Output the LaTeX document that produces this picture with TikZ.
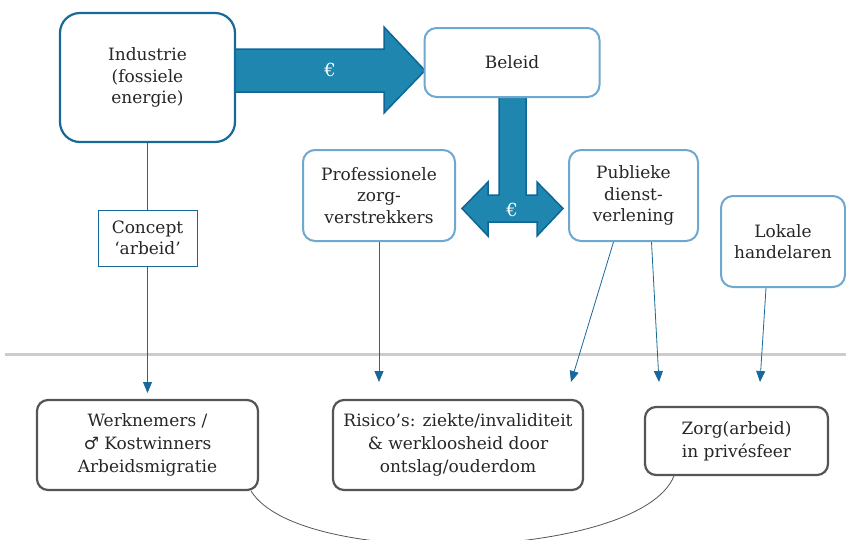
\documentclass[tikz,border=0pt]{standalone}
\usepackage{fontspec}
\setmainfont{DejaVu Serif}
\newfontfamily\symfont{DejaVu Sans}
\usepackage{tikz}
\usetikzlibrary{arrows.meta, backgrounds}
\definecolor{darkblue}{HTML}{17699A}
\definecolor{lightblue}{HTML}{6FA8CF}
\definecolor{arrowfill}{HTML}{1E86AF}
\definecolor{arrowedge}{HTML}{0E6696}
\definecolor{boxgray}{HTML}{555555}
\definecolor{txt}{HTML}{262626}

\begin{document}
\begin{tikzpicture}[x=1pt, y=-1pt,
  every node/.style={text=txt, align=center, font=\fontsize{17}{21.5}\selectfont},
  mainbox/.style={draw=darkblue, line width=2.2pt, rounded corners=20pt, fill=white},
  govbox/.style={draw=lightblue, line width=2pt, rounded corners=12pt, fill=white},
  lifebox/.style={draw=boxgray, line width=2.2pt, rounded corners=11pt, fill=white,
    font=\fontsize{17}{23}\selectfont},
  notebox/.style={draw=darkblue, line width=0.8pt, fill=white},
  link/.style={darkblue, line width=0.8pt},
  tip/.style={link, -{Triangle[width=9pt, length=11pt]}},
  flow/.style={fill=arrowfill, draw=arrowedge, line width=1.5pt, line join=miter},
  money/.style={text=white, font=\fontsize{18}{18}\selectfont}]
  \useasboundingbox (0,0) rectangle (846,539);

  % top row
  \node[mainbox, minimum width=175pt, minimum height=129pt] (ind) at (147.5,77.5)
    {Industrie\\(fossiele\\energie)};
  \node[govbox, minimum width=175pt, minimum height=69pt] (bel) at (512,62.5) {Beleid};
  \node[govbox, minimum width=152pt, minimum height=91pt] (prof) at (379,195.5)
    {Professionele\\zorg-\\verstrekkers};
  \node[govbox, minimum width=129pt, minimum height=91pt] (pub) at (633.5,195.5)
    {Publieke\\dienst-\\verlening};
  \node[govbox, minimum width=124pt, minimum height=91pt] (lok) at (783,241.5)
    {Lokale\\handelaren};
  \node[notebox, minimum width=99pt, minimum height=56pt] (concept) at (147.5,238)
    {Concept\\`arbeid'};

  % money flows
  \begin{scope}[on background layer]
    \draw[flow] (234,49) -- (384,49) -- (384,27) -- (425,70.5) -- (384,113)
      -- (384,92) -- (234,92) -- cycle;
    \draw[flow] (499,96) -- (526,96) -- (526,195) -- (537,195) -- (537,182)
      -- (563,208.5) -- (537,236) -- (537,222) -- (488,222) -- (488,236)
      -- (462,208.5) -- (488,182) -- (488,195) -- (499,195) -- cycle;
  \end{scope}
  \node[money] (eurA) at (330,70) {€};
  \node[money] (eurB) at (512,210) {€};

  % public / private boundary
  \draw[gray!40, line width=3pt] (5,354) -- (846,354);

  % bottom row
  \node[lifebox, minimum width=221pt, minimum height=90pt] (wk) at (147.5,445)
    {Werknemers /\\{\symfont ♂} Kostwinners\\Arbeidsmigratie};
  \node[lifebox, minimum width=250pt, minimum height=90pt] (ris) at (458,445)
    {Risico's: ziekte/invaliditeit\\\& werkloosheid door\\ontslag/ouderdom};
  \node[lifebox, minimum width=183pt, minimum height=68pt] (zorg) at (736.5,441)
    {Zorg(arbeid)\\in privésfeer};

  \coordinate (endWk) at (147.5,393);
  \coordinate (endRis) at (379,382);
  \coordinate (endPubA) at (571,382);
  \coordinate (endPubB) at (659,382);
  \coordinate (endLok) at (760,382);

  \draw[link] (ind) -- (concept);
  \draw[tip] (concept) -- (endWk);
  \draw[tip] (prof) -- (endRis);
  \draw[tip] ([xshift=-20pt]pub.south) -- (endPubA);
  \draw[tip] ([xshift=18pt]pub.south) -- (endPubB);
  \draw[tip] ([xshift=-17pt]lok.south) -- (endLok);

  \draw[boxgray, line width=0.8pt] ([xshift=-8pt]wk.south east)
    .. controls (300,570) and (640,560) .. ([xshift=30pt]zorg.south west);
\end{tikzpicture}
\end{document}
